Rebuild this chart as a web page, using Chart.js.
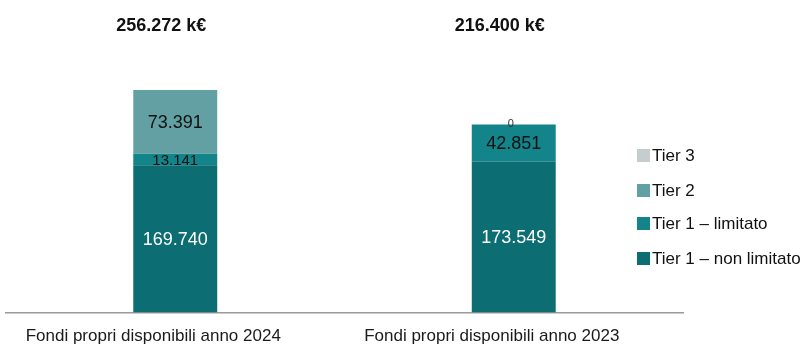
<!DOCTYPE html>
<html>
<head>
<meta charset="utf-8">
<script src="https://cdn.jsdelivr.net/npm/chart.js@4.4.1/dist/chart.umd.min.js"></script>
<style>
  html, body { margin: 0; padding: 0; background: #ffffff; }
  #wrap { position: relative; width: 806px; height: 347px; }
</style>
</head>
<body>
<div id="wrap"><canvas id="ChartFondi" width="806" height="347"></canvas></div>
<script>
// dati
const categorie = ['Fondi propri disponibili anno 2024', 'Fondi propri disponibili anno 2023'];
const tier1NonLimitato = [169740, 173549];
const tier1Limitato = [13141, 42851];
const tier2 = [73391, null];
const tier3 = [null, 0];
const etichetteLegenda = ['Tier 1 – non limitato', 'Tier 1 – limitato', 'Tier 2', 'Tier 3'];
const coloriSerie = ['#0c6d73', '#13848a', '#62a0a3', '#c6cdce'];

const formatta = (n) => String(n).replace(/\B(?=(\d{3})+(?!\d))/g, '.');
const FONT = '"Liberation Sans", Arial, sans-serif';

const ctx = document.getElementById('ChartFondi');

// etichette dentro i segmenti
const etichetteValori = {
    id: 'etichetteValori',
    afterDatasetsDraw(chart) {
        const c = chart.ctx;
        c.save();
        c.textAlign = 'center';
        c.textBaseline = 'middle';
        chart.data.datasets.forEach((ds, i) => {
            const meta = chart.getDatasetMeta(i);
            meta.data.forEach((bar, j) => {
                const v = ds.data[j];
                if (v === null || v === undefined) return;
                const h = Math.abs(bar.base - bar.y);
                if (v === 0) {
                    c.font = '11px ' + FONT;
                    c.fillStyle = '#333';
                    c.fillText('0', bar.x - 3, bar.y - 1);
                    return;
                }
                c.font = (h < 20 ? '15px ' : '18px ') + FONT;
                c.fillStyle = i === 0 ? '#ffffff' : '#111111';
                c.fillText(formatta(v), bar.x, (bar.y + bar.base) / 2 + 1);
            });
        });
        c.restore();
    }
};

// totali sopra le colonne
const totali = {
    id: 'totali',
    afterDraw(chart) {
        const c = chart.ctx;
        const xScale = chart.scales.x;
        c.save();
        c.font = 'bold 18px ' + FONT;
        c.fillStyle = '#111';
        c.textAlign = 'center';
        c.textBaseline = 'middle';
        categorie.forEach((cat, j) => {
            const tot = chart.data.datasets.reduce((s, ds) => s + (ds.data[j] || 0), 0);
            c.fillText(formatta(tot) + ' k€', xScale.getPixelForValue(j) - 14, 26);
        });
        c.restore();
    }
};

// legenda disegnata a destra
const legenda = {
    id: 'legenda',
    afterDraw(chart) {
        const c = chart.ctx;
        const righe = [155, 190, 223, 258];
        c.save();
        c.font = '17px ' + FONT;
        c.textBaseline = 'middle';
        c.textAlign = 'left';
        const ds = chart.data.datasets.slice().reverse();
        ds.forEach((d, k) => {
            c.fillStyle = d.backgroundColor;
            c.fillRect(637, righe[k] - 6, 13, 13);
            c.fillStyle = '#111';
            c.fillText(d.label, 652, righe[k] + 1);
        });
        c.restore();
    }
};

const serie = [tier1NonLimitato, tier1Limitato, tier2, tier3];

new Chart(ctx, {
    type: 'bar',
    data: {
        labels: categorie,
        datasets: serie.map((dati, i) => ({
            label: etichetteLegenda[i],
            data: dati,
            backgroundColor: coloriSerie[i],
            borderWidth: 0,
            barPercentage: 0.248,
            categoryPercentage: 1
        }))
    },
    options: {
        responsive: false,
        animation: false,
        layout: {
            padding: { top: 52, left: 6, right: 123, bottom: -14 }
        },
        scales: {
            x: {
                stacked: true,
                grid: { display: false, drawTicks: false },
                border: { display: true, color: '#9a9a9a', width: 1.5 },
                ticks: {
                    color: '#1a1a1a',
                    padding: 14,
                    labelOffset: -22,
                    maxRotation: 0,
                    font: { family: FONT, size: 17 }
                }
            },
            y: {
                stacked: true,
                display: false,
                min: 0,
                max: 300000
            }
        },
        plugins: {
            legend: { display: false },
            tooltip: { enabled: false }
        }
    },
    plugins: [etichetteValori, totali, legenda]
});
</script>
</body>
</html>
